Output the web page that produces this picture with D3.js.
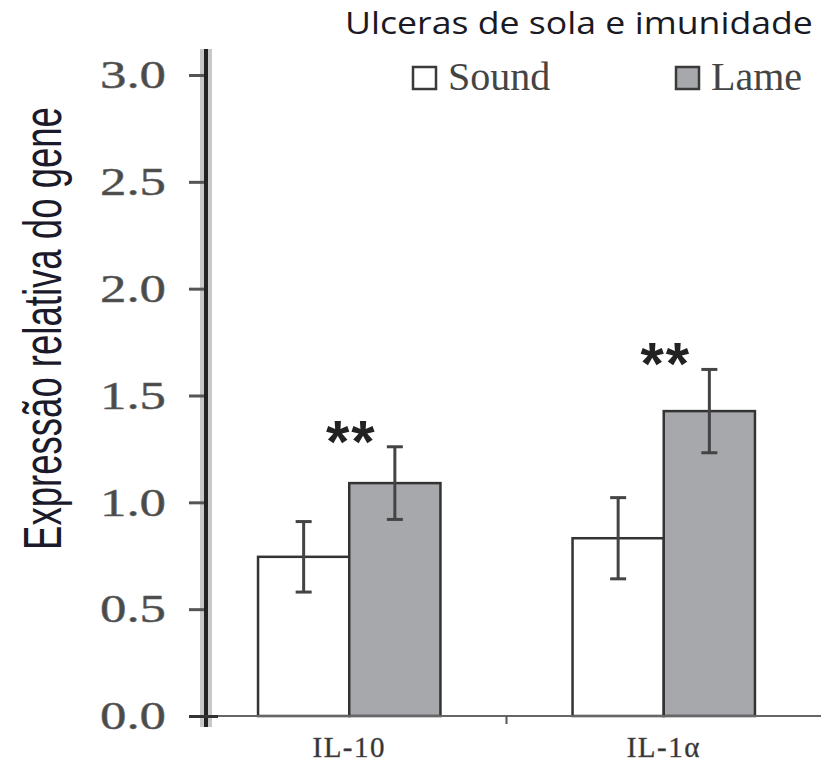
<!DOCTYPE html>
<html>
<head>
<meta charset="utf-8">
<script src="https://cdn.jsdelivr.net/npm/d3@7"></script>
<style>
  body { margin: 0; background: #fff; }
  svg { display: block; }
</style>
</head>
<body>
<div id="chart"></div>
<script>
// values
var categories = ["IL-10", "IL-1\u03b1"];
var groups = ["Sound", "Lame"];
var soundMean = [0.745, 0.832];
var soundErr = [0.165, 0.19];
var lameMean = [1.09, 1.427];
var lameErr = [0.17, 0.195];
var signif = ["**", "**"];
var yTicks = [0, 0.5, 1.0, 1.5, 2.0, 2.5, 3.0];

var width = 821, height = 765;
var colors = {Sound: "#ffffff", Lame: "#a7a8ac"};

var svg = d3.select("#chart").append("svg")
    .attr("width", width)
    .attr("height", height);

var y = d3.scaleLinear().domain([0, 3]).range([716, 75]);

var x0 = d3.scaleBand().domain(categories)
    .range([192, 821])
    .paddingInner(0.42)
    .paddingOuter(0.21);

var x1 = d3.scaleBand().domain(groups)
    .range([0, x0.bandwidth()]);

var rows = [];
categories.forEach(function(c, i){
    rows.push({cat: c, group: "Sound", mean: soundMean[i], err: soundErr[i]});
    rows.push({cat: c, group: "Lame", mean: lameMean[i], err: lameErr[i]});
});

// squeeze/stretch a text to a wanted length with a transform
function fitText(sel, len){
    var w = sel.node().getComputedTextLength();
    return len / w;
}

// title
var title = svg.append("text")
    .attr("font-family", "'Open Sans', sans-serif")
    .attr("font-size", 31)
    .attr("fill", "#1a1a24")
    .text("Ulceras de sola e imunidade");
title.attr("transform", "translate(345,34) scale(" + fitText(title, 468) + ",1)");

// legend
var leg = svg.selectAll(".leg").data(groups).enter().append("g")
    .attr("class", "leg")
    .attr("transform", function(d, i){ return "translate(" + (413 + i * 263) + ",0)"; });
leg.append("rect")
    .attr("x", 0).attr("y", 67)
    .attr("width", 23).attr("height", 22)
    .attr("fill", function(d){ return colors[d]; })
    .attr("stroke", "#3a3a3a").attr("stroke-width", 2.5);
leg.append("text")
    .attr("x", 35).attr("y", 90)
    .attr("font-family", "'Liberation Serif', serif")
    .attr("font-size", 40)
    .attr("fill", "#444")
    .text(function(d){ return d; });

// bars
svg.selectAll(".bar").data(rows).enter().append("rect")
    .attr("class", "bar")
    .attr("x", function(d){ return x0(d.cat) + x1(d.group); })
    .attr("y", function(d){ return y(d.mean); })
    .attr("width", x1.bandwidth())
    .attr("height", function(d){ return y(0) - y(d.mean); })
    .attr("fill", function(d){ return colors[d.group]; })
    .attr("stroke", "#333").attr("stroke-width", 2.5);

// error bars
var eb = svg.selectAll(".err").data(rows).enter().append("g")
    .attr("class", "err")
    .attr("stroke", "#444").attr("stroke-width", 3);
eb.append("line")
    .attr("x1", function(d){ return x0(d.cat) + x1(d.group) + x1.bandwidth() / 2; })
    .attr("x2", function(d){ return x0(d.cat) + x1(d.group) + x1.bandwidth() / 2; })
    .attr("y1", function(d){ return y(d.mean + d.err); })
    .attr("y2", function(d){ return y(d.mean - d.err); });
[1, -1].forEach(function(s){
    eb.append("line")
        .attr("x1", function(d){ return x0(d.cat) + x1(d.group) + x1.bandwidth() / 2 - 8; })
        .attr("x2", function(d){ return x0(d.cat) + x1(d.group) + x1.bandwidth() / 2 + 8; })
        .attr("y1", function(d){ return y(d.mean + s * d.err); })
        .attr("y2", function(d){ return y(d.mean + s * d.err); });
});

// significance stars
svg.selectAll(".sig").data(categories).enter().append("text")
    .attr("class", "sig")
    .attr("x", function(d){ return x0(d) + x0.bandwidth() / 2 + 2; })
    .attr("y", function(d, i){ return y(lameMean[i] + lameErr[i] + 0.09) + 34; })
    .attr("text-anchor", "middle")
    .attr("font-family", "'Liberation Sans', sans-serif")
    .attr("font-weight", "bold")
    .attr("font-size", 60)
    .attr("letter-spacing", 2)
    .attr("fill", "#222")
    .text(function(d, i){ return signif[i]; });

// x axis
svg.append("line")
    .attr("x1", 206).attr("x2", width)
    .attr("y1", y(0)).attr("y2", y(0))
    .attr("stroke", "#666").attr("stroke-width", 2);
svg.append("line")
    .attr("x1", x0(categories[1]) - x0.step() * x0.paddingInner() / 2)
    .attr("x2", x0(categories[1]) - x0.step() * x0.paddingInner() / 2)
    .attr("y1", y(0)).attr("y2", y(0) + 8)
    .attr("stroke", "#555").attr("stroke-width", 2);

var xAxis = svg.append("g")
    .attr("transform", "translate(0," + y(0) + ")")
    .call(d3.axisBottom(x0).tickSize(0).tickPadding(20));
xAxis.select(".domain").remove();
xAxis.selectAll("text")
    .attr("font-family", "'Liberation Serif', serif")
    .attr("font-size", 29)
    .attr("letter-spacing", 1.5)
    .attr("fill", "#333")
    .attr("stroke", "#555").attr("stroke-width", 0.4);

// y axis
svg.append("line")
    .attr("x1", 206).attr("x2", 206)
    .attr("y1", 49).attr("y2", y(0) + 11)
    .attr("stroke", "#c8c8c8").attr("stroke-width", 12);
svg.append("line")
    .attr("x1", 206).attr("x2", 206)
    .attr("y1", 49).attr("y2", y(0) + 11)
    .attr("stroke", "#222").attr("stroke-width", 4);

var yAxis = svg.append("g")
    .attr("transform", "translate(204,0)")
    .call(d3.axisLeft(y).tickValues(yTicks).tickFormat(d3.format(".1f"))
        .tickSize(15).tickPadding(23));
yAxis.select(".domain").remove();
yAxis.selectAll("line").attr("stroke", "#555").attr("stroke-width", 3);
yAxis.selectAll(".tick").filter(function(d){ return d === 0; })
    .select("line").attr("x2", 14).attr("x1", -15).attr("stroke", "#333");
yAxis.selectAll("text")
    .attr("font-family", "'Liberation Serif', serif")
    .attr("font-size", 40)
    .attr("textLength", 66)
    .attr("lengthAdjust", "spacingAndGlyphs")
    .attr("fill", "#4a4a4a")
    .attr("stroke", "#666").attr("stroke-width", 0.5);

// y label
var ylab = svg.append("text")
    .attr("text-anchor", "middle")
    .attr("font-family", "'Liberation Sans', sans-serif")
    .attr("font-size", 53)
    .attr("fill", "#1a1a2a")
    .text("Expressão relativa do gene");
ylab.attr("transform", "translate(61," + ((107 + 550) / 2) + ") rotate(-90) scale(" + fitText(ylab, 443) + ",1)");
</script>
</body>
</html>
